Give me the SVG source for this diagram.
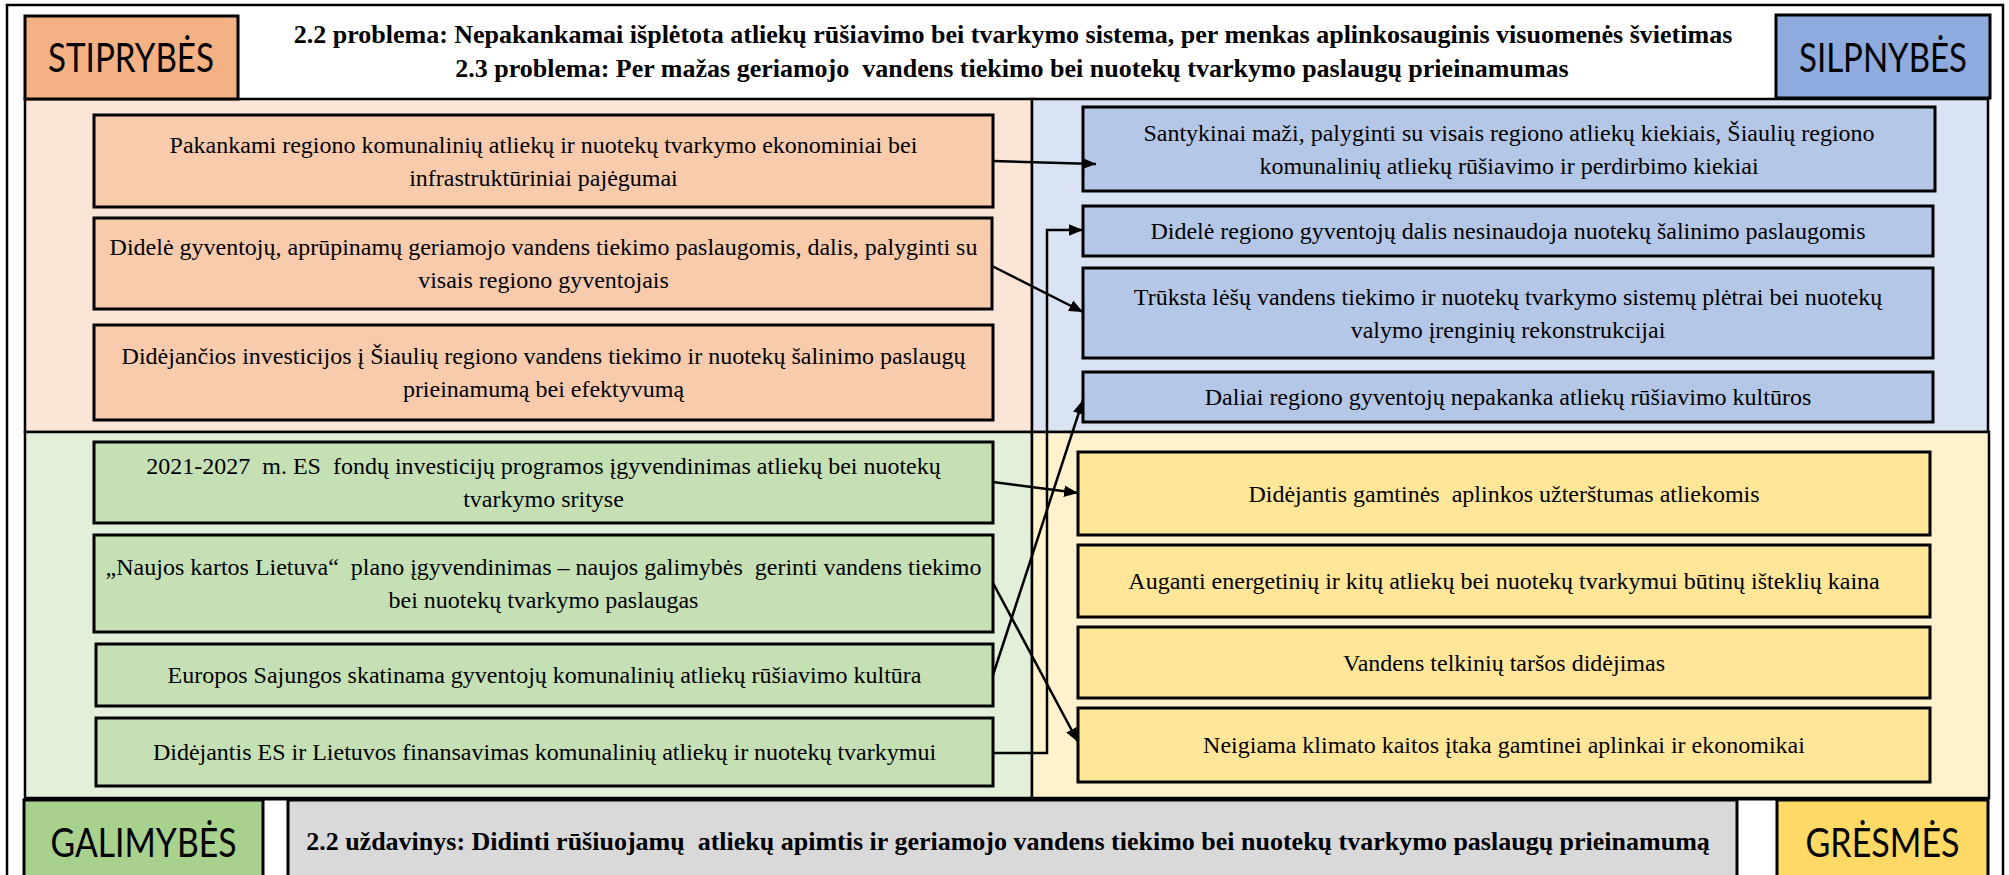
<svg xmlns="http://www.w3.org/2000/svg" width="2009" height="875" viewBox="0 0 2009 875">
<style>
.lbl{font-family:Lato,"Open Sans",sans-serif;font-size:40px;fill:#000;text-anchor:middle}
.t{font-family:"Liberation Serif","Times New Roman",serif;font-size:24px;fill:#000;text-anchor:middle;white-space:pre}
.h{font-family:"Liberation Serif","Times New Roman",serif;font-size:26px;font-weight:bold;fill:#000;text-anchor:middle;white-space:pre}
.box{stroke:#000;stroke-width:3}
.reg{stroke:#000;stroke-width:2.5}
.conn{stroke:#000;stroke-width:2.5;fill:none}
.or{fill:#F8CBAD}.bl{fill:#B4C7E7}.gr{fill:#C5E0B4}.ye{fill:#FFE699}
</style>
<defs>
<marker id="arr" viewBox="0 0 12 10" markerUnits="userSpaceOnUse" markerWidth="14" markerHeight="12" refX="12" refY="5" orient="auto">
<path d="M0,0 L12,5 L0,10 z" fill="#000"/>
</marker>
</defs>
<rect x="0" y="0" width="2009" height="875" fill="#fff"/>
<rect x="7" y="5" width="1996" height="890" fill="#fff" stroke="#000" stroke-width="2.5"/>

<g id="quadrants">
<rect class="reg" x="25" y="99" width="1007" height="333" fill="#FBE5D6"/>
<rect class="reg" x="1032" y="99" width="956" height="333" fill="#DAE3F3"/>
<rect class="reg" x="25" y="432" width="1007" height="366" fill="#E2F0D9"/>
<rect class="reg" x="1032" y="432" width="957" height="366" fill="#FFF2CC"/>
</g>

<g id="header">
<g id="stiprybes">
<rect class="box" x="25" y="16" width="213" height="83" fill="#F4B183"/>
<text class="lbl" x="131" y="72" textLength="166" lengthAdjust="spacingAndGlyphs">STIPRYBĖS</text>
</g>
<g id="problemos">
<text class="h" x="1013" y="43">2.2 problema: Nepakankamai išplėtota atliekų rūšiavimo bei tvarkymo sistema, per menkas aplinkosauginis visuomenės švietimas</text>
<text class="h" x="1012" y="77">2.3 problema: Per mažas geriamojo  vandens tiekimo bei nuotekų tvarkymo paslaugų prieinamumas</text>
</g>
<g id="silpnybes">
<rect class="box" x="1776" y="15" width="214" height="83" fill="#8FAADC"/>
<text class="lbl" x="1883" y="72" textLength="168" lengthAdjust="spacingAndGlyphs">SILPNYBĖS</text>
</g>
</g>

<g id="s1"><rect class="box or" x="94" y="115" width="899" height="92"/>
<text class="t" x="543.5" y="153">Pakankami regiono komunalinių atliekų ir nuotekų tvarkymo ekonominiai bei</text>
<text class="t" x="543.5" y="186">infrastruktūriniai pajėgumai</text></g>
<g id="s2"><rect class="box or" x="94" y="218" width="898" height="91"/>
<text class="t" x="543.5" y="255">Didelė gyventojų, aprūpinamų geriamojo vandens tiekimo paslaugomis, dalis, palyginti su</text>
<text class="t" x="543.5" y="288">visais regiono gyventojais</text></g>
<g id="s3"><rect class="box or" x="94" y="325" width="899" height="95"/>
<text class="t" x="543.5" y="364">Didėjančios investicijos į Šiaulių regiono vandens tiekimo ir nuotekų šalinimo paslaugų</text>
<text class="t" x="543.5" y="397">prieinamumą bei efektyvumą</text></g>

<g id="w1"><rect class="box bl" x="1083" y="107" width="852" height="84"/>
<text class="t" x="1509" y="141">Santykinai maži, palyginti su visais regiono atliekų kiekiais, Šiaulių regiono</text>
<text class="t" x="1509" y="174">komunalinių atliekų rūšiavimo ir perdirbimo kiekiai</text></g>
<g id="w2"><rect class="box bl" x="1083" y="206" width="850" height="50"/>
<text class="t" x="1508" y="239">Didelė regiono gyventojų dalis nesinaudoja nuotekų šalinimo paslaugomis</text></g>
<g id="w3"><rect class="box bl" x="1083" y="268" width="850" height="90"/>
<text class="t" x="1508" y="305">Trūksta lėšų vandens tiekimo ir nuotekų tvarkymo sistemų plėtrai bei nuotekų</text>
<text class="t" x="1508" y="338">valymo įrenginių rekonstrukcijai</text></g>
<g id="w4"><rect class="box bl" x="1083" y="372" width="850" height="50"/>
<text class="t" x="1508" y="405">Daliai regiono gyventojų nepakanka atliekų rūšiavimo kultūros</text></g>

<g id="o1"><rect class="box gr" x="94" y="442" width="899" height="81"/>
<text class="t" x="543.5" y="474">2021-2027  m. ES  fondų investicijų programos įgyvendinimas atliekų bei nuotekų</text>
<text class="t" x="543.5" y="507">tvarkymo srityse</text></g>
<g id="o2"><rect class="box gr" x="94" y="535" width="899" height="97"/>
<text class="t" x="543.5" y="575">„Naujos kartos Lietuva“  plano įgyvendinimas – naujos galimybės  gerinti vandens tiekimo</text>
<text class="t" x="543.5" y="608">bei nuotekų tvarkymo paslaugas</text></g>
<g id="o3"><rect class="box gr" x="96" y="644" width="897" height="62"/>
<text class="t" x="544.5" y="683">Europos Sajungos skatinama gyventojų komunalinių atliekų rūšiavimo kultūra</text></g>
<g id="o4"><rect class="box gr" x="96" y="718" width="897" height="68"/>
<text class="t" x="544.5" y="760">Didėjantis ES ir Lietuvos finansavimas komunalinių atliekų ir nuotekų tvarkymui</text></g>

<g id="t1"><rect class="box ye" x="1078" y="452" width="852" height="83"/>
<text class="t" x="1504" y="502">Didėjantis gamtinės  aplinkos užterštumas atliekomis</text></g>
<g id="t2"><rect class="box ye" x="1078" y="545" width="852" height="72"/>
<text class="t" x="1504" y="589">Auganti energetinių ir kitų atliekų bei nuotekų tvarkymui būtinų išteklių kaina</text></g>
<g id="t3"><rect class="box ye" x="1078" y="627" width="852" height="71"/>
<text class="t" x="1504" y="671">Vandens telkinių taršos didėjimas</text></g>
<g id="t4"><rect class="box ye" x="1078" y="708" width="852" height="74"/>
<text class="t" x="1504" y="753">Neigiama klimato kaitos įtaka gamtinei aplinkai ir ekonomikai</text></g>

<g id="connectors">
<line class="conn" x1="993" y1="161" x2="1096" y2="164" marker-end="url(#arr)"/>
<line class="conn" x1="992" y1="266" x2="1083" y2="312" marker-end="url(#arr)"/>
<polyline class="conn" points="993,753 1047,753 1047,230 1083,230" marker-end="url(#arr)"/>
<line class="conn" x1="993" y1="482" x2="1078" y2="493" marker-end="url(#arr)"/>
<line class="conn" x1="993" y1="675" x2="1083" y2="400" marker-end="url(#arr)"/>
<line class="conn" x1="993" y1="583" x2="1078" y2="742" marker-end="url(#arr)"/>
</g>

<g id="footer">
<line x1="24" y1="799" x2="1989" y2="799" stroke="#000" stroke-width="3"/>
<g id="galimybes">
<rect class="box" x="24" y="800" width="239" height="90" fill="#A9D18E"/>
<text class="lbl" x="143.5" y="857" textLength="186" lengthAdjust="spacingAndGlyphs">GALIMYBĖS</text>
</g>
<g id="uzdavinys">
<rect class="box" x="288" y="800" width="1449" height="90" fill="#D9D9D9"/>
<text class="h" x="1008" y="850">2.2 uždavinys: Didinti rūšiuojamų  atliekų apimtis ir geriamojo vandens tiekimo bei nuotekų tvarkymo paslaugų prieinamumą</text>
</g>
<g id="gresmes">
<rect class="box" x="1777" y="800" width="211" height="90" fill="#FFD966"/>
<text class="lbl" x="1882.5" y="857" textLength="154" lengthAdjust="spacingAndGlyphs">GRĖSMĖS</text>
</g>
</g>
</svg>
